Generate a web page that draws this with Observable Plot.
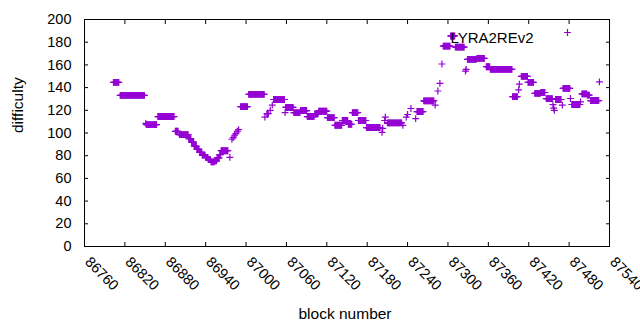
<!DOCTYPE html>
<html>
<head>
<meta charset="utf-8">
<script src="https://cdn.jsdelivr.net/npm/d3@7"></script>
<script src="https://cdn.jsdelivr.net/npm/@observablehq/plot@0.6"></script>
<style>
  html, body { margin: 0; padding: 0; background: #fff; }
</style>
</head>
<body>
<div id="chart"></div>
<script>
// Series name (legend)
const seriesName = "LYRA2REv2";

// Runs of consecutive blocks sharing the same difficulty
const runStart = [86803, 86813, 86851, 86852, 86869, 86895, 86901, 86915, 86919, 86923,
  86927, 86931, 86935, 86940, 86944, 86948, 86954, 86957, 86961, 86963,
  86976, 86979, 86981, 86983, 86985, 86987, 86989, 86992, 87004, 87028,
  87031, 87036, 87039, 87041, 87058, 87059, 87071, 87081, 87091, 87102,
  87108, 87121, 87132, 87143, 87152, 87158, 87167, 87179, 87202, 87203,
  87206, 87207, 87210, 87233, 87238, 87240, 87245, 87252, 87254, 87264,
  87281, 87285, 87288, 87291, 87293, 87304, 87311, 87326, 87327, 87329,
  87343, 87357, 87363, 87396, 87405, 87406, 87409, 87419, 87429, 87438,
  87446, 87456, 87457, 87458, 87460, 87470, 87471, 87482, 87484, 87497,
  87499, 87507, 87512, 87525];
const runEnd = [86811, 86849, 86851, 86867, 86893, 86899, 86914, 86918, 86922, 86926,
  86930, 86934, 86939, 86943, 86947, 86953, 86956, 86960, 86962, 86973,
  86976, 86979, 86981, 86983, 86985, 86987, 86989, 87002, 87027, 87028,
  87033, 87036, 87039, 87057, 87058, 87070, 87080, 87090, 87101, 87107,
  87120, 87131, 87142, 87151, 87157, 87166, 87178, 87199, 87202, 87203,
  87206, 87207, 87231, 87233, 87238, 87240, 87245, 87252, 87263, 87279,
  87281, 87285, 87288, 87291, 87303, 87310, 87324, 87326, 87327, 87342,
  87354, 87362, 87395, 87403, 87405, 87406, 87418, 87427, 87437, 87444,
  87455, 87456, 87457, 87458, 87468, 87470, 87481, 87482, 87496, 87497,
  87506, 87510, 87524, 87525];
const runValue = [144.6, 133.1, 108.5, 107.4, 114.5, 101.5, 98.6, 95, 92, 88.5,
  85.5, 83, 80.5, 78.5, 76.5, 74.5, 75.5, 78, 81, 84.4,
  78.5, 94.5, 96, 98, 99.5, 101.5, 103, 123.2, 134, 114,
  117, 120, 124.5, 129.5, 118, 122.5, 118, 119.8, 114.5, 116.8,
  119.2, 113.6, 106.8, 111, 107.7, 118, 111, 104.8, 100.5, 104,
  111, 114, 108.9, 106.8, 114, 116.3, 121.6, 112.7, 118.9, 128.3,
  124.5, 137, 143.7, 160.8, 176.5, 185.5, 175.6, 154.6, 156, 164.9,
  165.8, 158.4, 156.1, 132, 138, 143, 149.9, 144.6, 134.9, 135.7,
  130.3, 125, 122, 120, 129.5, 124.5, 139.3, 130.4, 125.1, 127.4,
  134.5, 133.4, 128.6, 145.1];

// Axis ticks
const xTicks = [86760, 86820, 86880, 86940, 87000, 87060, 87120, 87180, 87240, 87300, 87360, 87420, 87480, 87540];
const yTicks = [0, 20, 40, 60, 80, 100, 120, 140, 160, 180, 200];

// One point per block inside each run
const points = runStart.flatMap((s, i) =>
  d3.range(s, runEnd[i] + 1).map(b => ({block: b, difficulty: runValue[i]})));

const color = "#9400d3";
const font = "'Liberation Sans', Arial, sans-serif";

const chart = Plot.plot({
  width: 640,
  height: 330,
  marginLeft: 84,
  marginRight: 31,
  marginTop: 19,
  marginBottom: 84,
  style: {fontFamily: font, fontSize: "14px", color: "#000", background: "#fff", overflow: "visible"},
  x: {domain: [86760, 87540]},
  y: {domain: [0, 200]},
  marks: [
    // tick labels
    Plot.axisX(xTicks, {tickSize: 0, tickPadding: 13, tickRotate: 45, dx: 3, tickFormat: d => `${d}`, label: null, fontSize: 14.5}),
    Plot.axisY(yTicks, {tickSize: 0, tickPadding: 13, tickFormat: d => `${d}`, label: null, fontSize: 14.5}),
    // inward ticks on all four sides
    Plot.axisX(xTicks, {anchor: "bottom", tickSize: -4, tickFormat: () => "", label: null}),
    Plot.axisX(xTicks, {anchor: "top", tickSize: -4, tickFormat: () => "", label: null}),
    Plot.axisY(yTicks, {anchor: "left", tickSize: -4, tickFormat: () => "", label: null}),
    Plot.axisY(yTicks, {anchor: "right", tickSize: -4, tickFormat: () => "", label: null}),
    // data
    Plot.dot(points, {x: "block", y: "difficulty", symbol: "plus", r: 2.35, stroke: color, strokeWidth: 1.2}),
    // frame
    Plot.frame({stroke: "#000", strokeWidth: 1}),
    // legend
    Plot.text([seriesName], {text: d => d, frameAnchor: "top-right", dx: -76, dy: 13, textAnchor: "end", fontSize: 15, fill: "#000"}),
    Plot.dot([seriesName], {frameAnchor: "top-right", dx: -42, dy: 13, symbol: "plus", r: 2.35, stroke: color, strokeWidth: 1.2}),
    // axis titles
    Plot.text(["block number"], {text: d => d, frameAnchor: "bottom", dx: -2, dy: 72, fontSize: 15.5, fill: "#000"}),
    Plot.text(["difficulty"], {text: d => d, frameAnchor: "left", dx: -66, rotate: -90, fontSize: 15.5, fill: "#000"})
  ]
});
document.getElementById("chart").appendChild(chart);
</script>
</body>
</html>
